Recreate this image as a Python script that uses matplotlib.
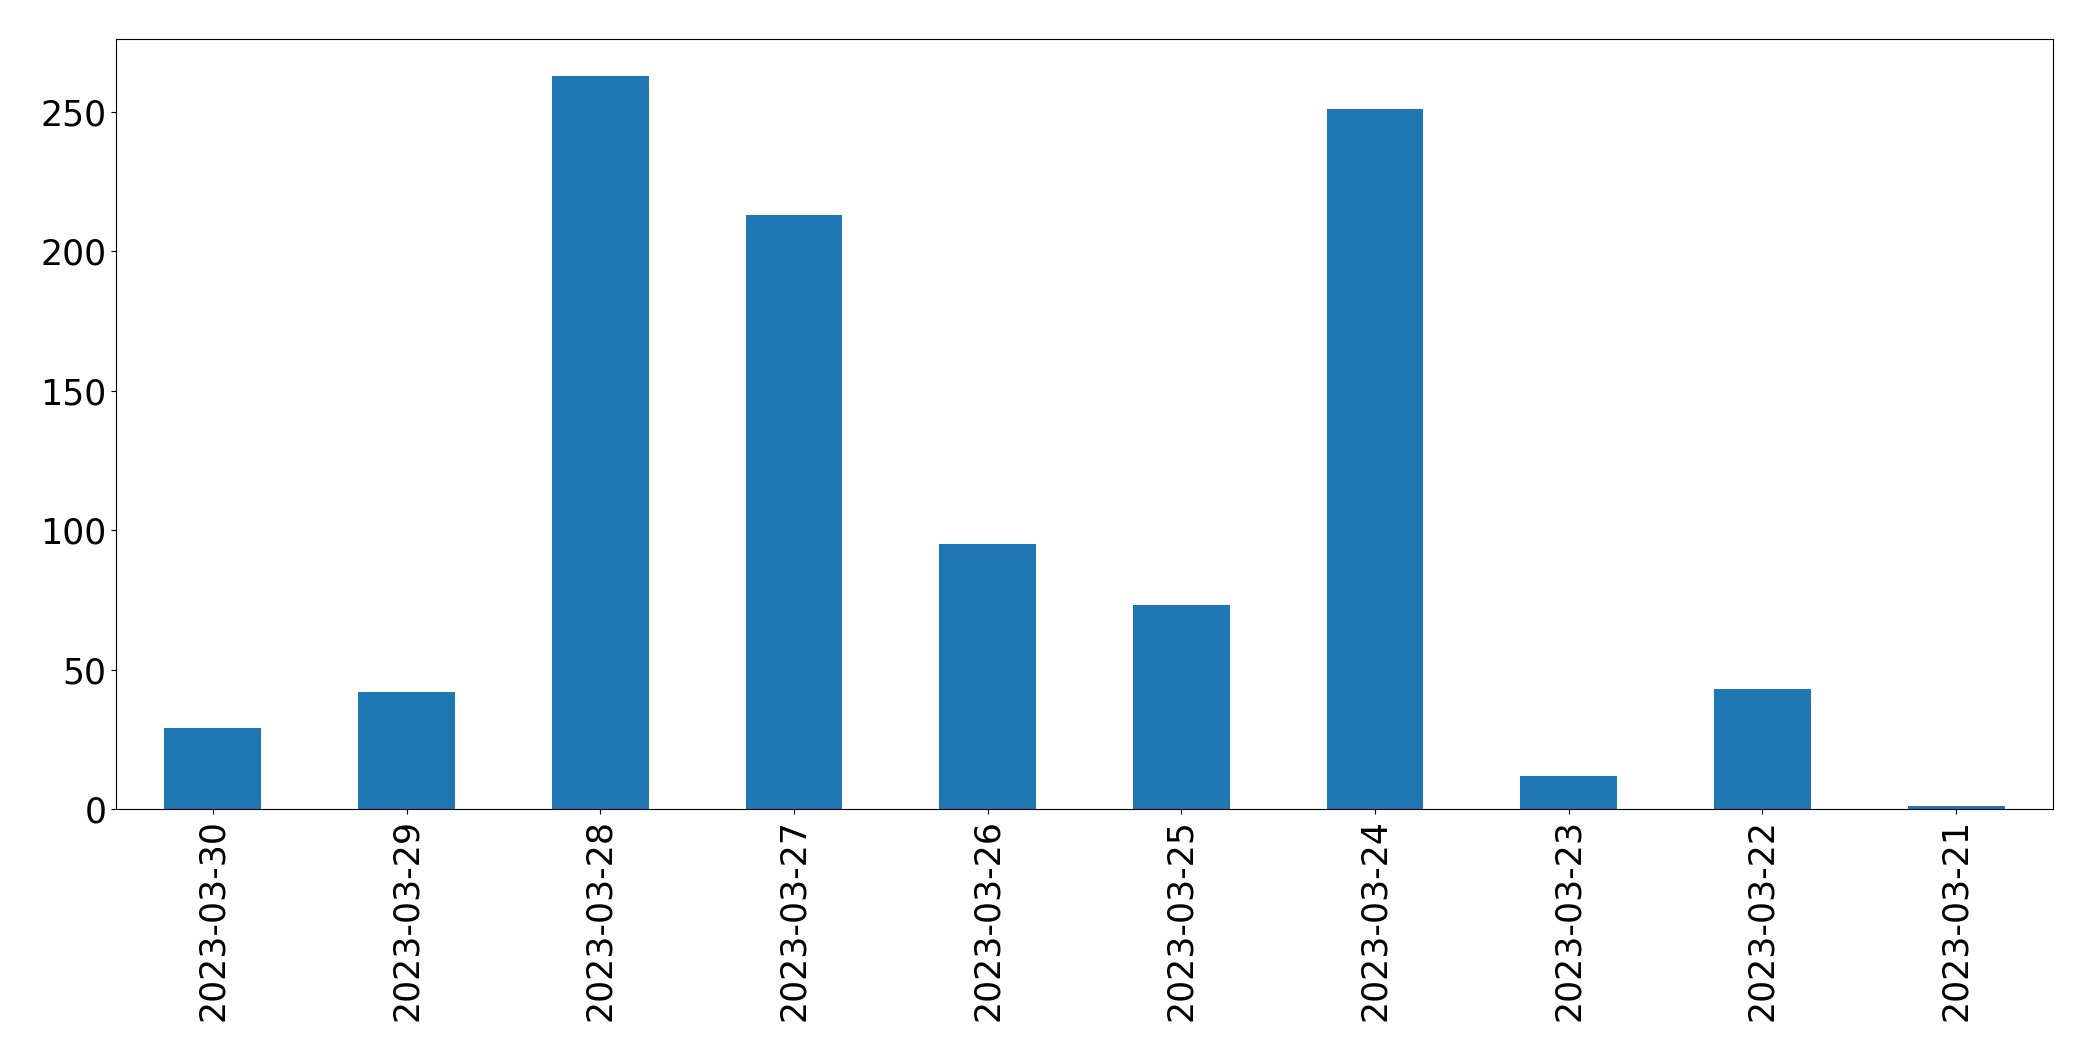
import matplotlib
matplotlib.use("Agg")
import matplotlib.pyplot as plt
import numpy as np

dates = ["2023-03-30", "2023-03-29", "2023-03-28", "2023-03-27", "2023-03-26",
         "2023-03-25", "2023-03-24", "2023-03-23", "2023-03-22", "2023-03-21"]
counts = [29, 42, 263, 213, 95, 73, 251, 12, 43, 1]

fig, ax = plt.subplots(figsize=(20.93, 10.61), dpi=100)
x = np.arange(len(dates))
ax.bar(x, counts, width=0.5, color="#1f77b4")
ax.set_xlim(-0.5, len(dates) - 0.5)
ax.set_xticks(x)
ax.set_xticklabels(dates, rotation=90)
ax.tick_params(labelsize=25)
fig.subplots_adjust(left=116 / 2093, right=2053 / 2093, top=1 - 39 / 1061, bottom=1 - 809 / 1061)
fig.savefig("out.png")
